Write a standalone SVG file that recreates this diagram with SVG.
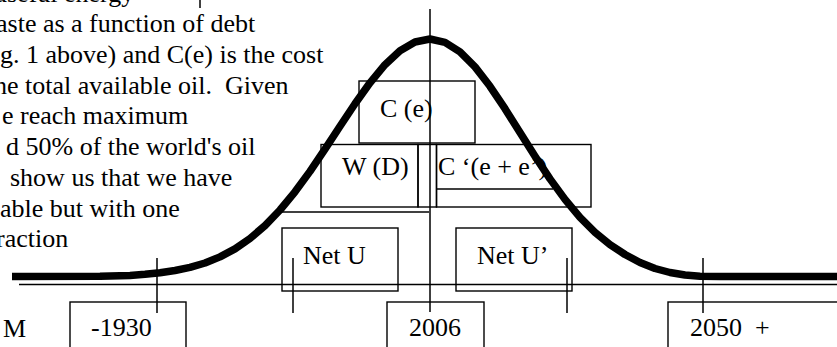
<svg xmlns="http://www.w3.org/2000/svg" width="837" height="347" viewBox="0 0 837 347">
<style>
text{font-family:"Liberation Serif","Times New Roman",serif;font-size:26px;fill:#000;white-space:pre}
.box{fill:none;stroke:#000;stroke-width:1.4}
.ln{stroke:#000;stroke-width:1.5;fill:none}
.curve{fill:none;stroke:#000;stroke-width:7.5;stroke-linejoin:round;stroke-linecap:butt}
</style>
<rect width="837" height="347" fill="#fff"/>
<g id="paragraph">
<text x="-6" y="2">useful energy</text>
<line class="ln" x1="200" y1="0" x2="200" y2="8"/>
<text x="-4" y="32">aste as a function of debt</text>
<text x="0" y="63">g. 1 above) and C(e) is the cost</text>
<text x="-6" y="93.5">he total available oil.  Given</text>
<text x="2" y="124">e reach maximum</text>
<text x="6" y="155">d 50% of the world's oil</text>
<text x="10" y="186">show us that we have</text>
<text x="0" y="216.5">able but with one</text>
<text x="-4" y="247">raction</text>
</g>
<g id="connectors">
<line class="ln" x1="19" y1="284.5" x2="837" y2="284.5"/>
<line class="ln" x1="430" y1="9" x2="430" y2="312"/>
<line class="ln" x1="157" y1="258" x2="157" y2="313"/>
<line class="ln" x1="293" y1="258" x2="293" y2="313"/>
<line class="ln" x1="567" y1="258" x2="567" y2="313"/>
<line class="ln" x1="703" y1="258" x2="703" y2="313"/>
<line class="ln" x1="282" y1="212" x2="429" y2="212"/>
</g>
<g id="node-ce">
<rect class="box" x="359" y="81" width="116" height="62"/>
<text x="380" y="117">C (e)</text>
</g>
<g id="node-wd">
<rect class="box" x="321" y="144.5" width="97" height="62.5"/>
<text x="342" y="175">W (D)</text>
</g>
<g id="node-narrow">
<rect class="box" x="418" y="144.5" width="18.5" height="62.5"/>
</g>
<g id="node-cprime">
<rect class="box" x="436.5" y="144.5" width="154.5" height="62.5"/>
<line class="ln" x1="436.5" y1="189" x2="553" y2="189"/>
<text x="438" y="175">C ‘(e + e’)</text>
</g>
<g id="node-netu">
<rect class="box" x="282" y="228" width="116" height="63"/>
<text x="303" y="264">Net U</text>
</g>
<g id="node-netu2">
<rect class="box" x="456" y="228" width="116" height="63"/>
<text x="477" y="264">Net U’</text>
</g>
<g id="node-1930">
<rect class="box" x="70" y="302" width="116" height="60"/>
<text x="91" y="336">-1930</text>
</g>
<g id="node-2006">
<rect class="box" x="387" y="302" width="97" height="60"/>
<text x="409" y="336">2006</text>
</g>
<g id="node-2050">
<rect class="box" x="668" y="302" width="190" height="60"/>
<text x="690" y="336">2050  +</text>
</g>
<g id="label-m">
<text x="3" y="337">M</text>
</g>
<g id="curve">
<polyline class="curve" points="12,276.5 100,276.3 130,275.4 145,274.3 160,272.7 175,270.5 190,267.4 205,263 220,256.9 235,248.9 250,238.5 265,225.6 280,210 295,191.8 310,171.4 325,149.2 340,126.3 355,103.7 370,82.8 385,64.7 400,50.8 415,42 430,39 445,42.3 460,51.8 475,66.9 490,86.3 505,108.7 520,132.5 535,156.2 550,178.9 565,199.4 580,217.3 595,232.3 610,244.6 625,254.5 640,262.5 655,268.5 670,272.5 685,275 700,276.2 720,276.5 837,276.5"/>
</g>
</svg>
